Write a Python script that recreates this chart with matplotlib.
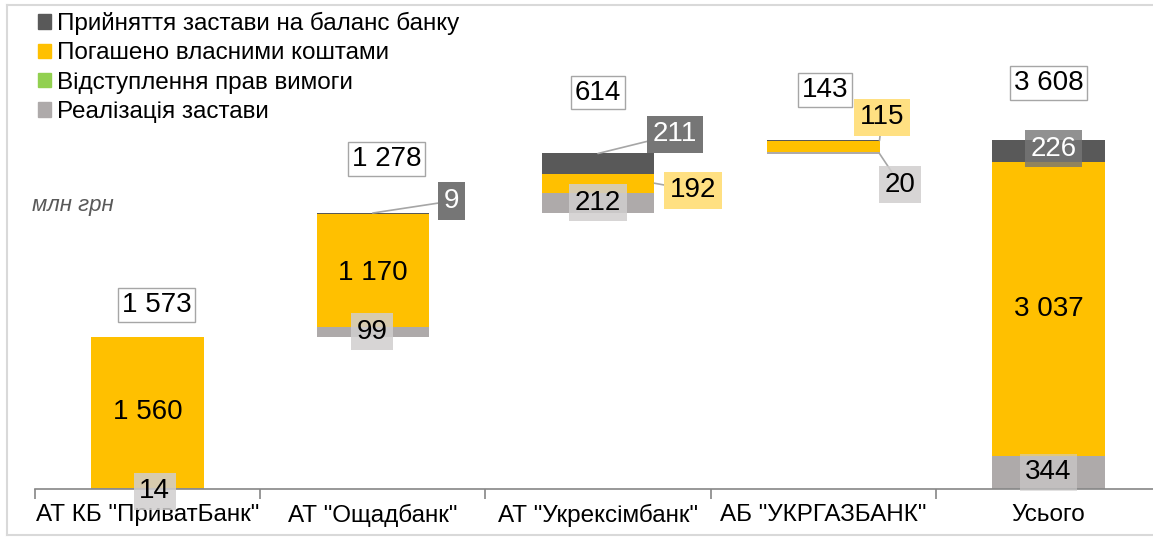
"""
Waterfall chart: sources of loan repayment by bank (mln UAH).

Output: out.png
"""
import matplotlib
matplotlib.use('Agg')  # Non-interactive backend
import matplotlib.pyplot as plt
from matplotlib.patches import Patch
from matplotlib.lines import Line2D

plt.rcParams['font.family'] = ['Liberation Sans', 'DejaVu Sans']

# Data
banks = ['АТ КБ "ПриватБанк"', 'АТ "Ощадбанк"', 'АТ "Укрексімбанк"',
         'АБ "УКРГАЗБАНК"', 'Усього']
totals = [1573, 1278, 614, 143, 3608]
realization = [14, 99, 212, 20, 344]   # Реалізація застави
assignment = [0, 0, 0, 0, 0]           # Відступлення прав вимоги
own_funds = [1560, 1170, 192, 115, 3037]  # Погашено власними коштами
collateral = [0, 9, 211, 8, 226]       # Прийняття застави на баланс банку

C_DARK = '#595959'
C_YELLOW = '#FFC000'
C_GREEN = '#92D050'
C_GRAY = '#AEAAAA'

W, H, DPI = 1153, 542, 100
fig = plt.figure(figsize=(W / DPI, H / DPI), dpi=DPI)

# axes: x axis line at y=489 px, from x=35 px; 0.0968 px per unit
ax_left, ax_right = 35, 1161
ax_bottom, ax_top = 489, 10
ax = fig.add_axes([ax_left / W, (H - ax_bottom) / H,
                   (ax_right - ax_left) / W, (ax_bottom - ax_top) / H])
ax.set_xlim(-0.5, 4.5)
ax.set_ylim(0, (ax_bottom - ax_top) / 0.0968)

# waterfall bases: running sum of totals, last bar from zero
bases = []
run = 0
for i, t in enumerate(totals):
    if i == len(totals) - 1:
        bases.append(0)
    else:
        bases.append(run)
        run += t

x = list(range(len(banks)))
bw = 0.5
b0 = bases
b1 = [b + r for b, r in zip(b0, realization)]
b2 = [b + a for b, a in zip(b1, assignment)]
b3 = [b + o for b, o in zip(b2, own_funds)]

ax.bar(x, realization, bw, bottom=b0, color=C_GRAY, zorder=2)
ax.bar(x, assignment, bw, bottom=b1, color=C_GREEN, zorder=2)
ax.bar(x, own_funds, bw, bottom=b2, color=C_YELLOW, zorder=2)
ax.bar(x, collateral, bw, bottom=b3, color=C_DARK, zorder=2)

# axis styling
for s in ['top', 'right', 'left']:
    ax.spines[s].set_visible(False)
ax.spines['bottom'].set_color('#868686')
ax.spines['bottom'].set_linewidth(1.2)
ax.set_yticks([])
ax.set_xticks([i - 0.5 for i in range(len(banks) + 1)])
ax.set_xticklabels([])
ax.set_xticks(x, minor=True)
ax.set_xticklabels(banks, minor=True, fontsize=17.5)
ax.tick_params(axis='x', which='major', length=7, color='#868686', width=1.2)
ax.tick_params(axis='x', which='minor', length=0, pad=11)


def fmt(v):
    return f'{v:,}'.replace(',', ' ')


def label(i, y, v, dx=0, dy=0, face=None, alpha=1.0, tc='black',
          edge='none', pad=0.2, line_from=None):
    """Put a value label near data point (i, y), shifted by pixels."""
    bbox = None
    if face is not None:
        bbox = dict(boxstyle=f'square,pad={pad}', fc=face, ec=edge,
                    alpha=alpha, lw=1)
    t = ax.annotate(fmt(v), xy=(i, y), xytext=(dx, dy),
                    textcoords='offset pixels', ha='center', va='center',
                    fontsize=20, color=tc, bbox=bbox, zorder=5)
    if line_from is not None:
        # leader line from the bar to the box
        ax.annotate('', xy=line_from, xytext=(0.5, 0.5), textcoords=t,
                    arrowprops=dict(arrowstyle='-', color='#A6A6A6', lw=1.2,
                                    shrinkA=0, shrinkB=0,
                                    patchA=t.get_bbox_patch()),
                    zorder=4)


def mid(lo, h):
    return lo + h / 2


# totals in white boxes
tot_dx = [9, 14, 0, 2, 0]
tot_dy = [32, 54, 61, 50, 57]
for i in x:
    top = bases[i] + totals[i]
    label(i, top, totals[i], dx=tot_dx[i], dy=tot_dy[i], face='white',
          edge='#A6A6A6', pad=0.14)

GRAY_BOX = '#D0CECE'
YEL_BOX = '#FFE082'
DARK_BOX = '#767676'

# ПриватБанк
label(0, mid(b2[0], own_funds[0]), own_funds[0])
label(0, mid(b0[0], realization[0]), realization[0], dx=7, dy=-3,
      face=GRAY_BOX, alpha=0.85)
# Ощадбанк
label(1, mid(b2[1], own_funds[1]), own_funds[1], dy=-2)
label(1, mid(b0[1], realization[1]), realization[1], dx=-1,
      face=GRAY_BOX, alpha=0.85)
label(1, b3[1] + collateral[1], collateral[1], dx=79, dy=12, face=DARK_BOX,
      tc='white', line_from=(1, b3[1] + collateral[1]))
# Укрексімбанк
label(2, mid(b0[2], realization[2]), realization[2], face=GRAY_BOX,
      alpha=0.85)
label(2, mid(b2[2], own_funds[2]), own_funds[2], dx=95, dy=-7,
      face=YEL_BOX, line_from=(2 + bw / 2, mid(b2[2], own_funds[2])))
label(2, b3[2] + collateral[2], collateral[2], dx=77, dy=19, face=DARK_BOX,
      tc='white', line_from=(2, b3[2] + collateral[2]))
# Укргазбанк
label(3, mid(b2[3], own_funds[3]), own_funds[3], dx=59, dy=29,
      face=YEL_BOX, line_from=(3 + bw / 2, b3[3]))
label(3, mid(b0[3], realization[3]), realization[3], dx=77, dy=-32,
      face=GRAY_BOX, alpha=0.85, line_from=(3 + bw / 2, b0[3]))
# Усього
label(4, mid(b2[4], own_funds[4]), own_funds[4])
label(4, mid(b0[4], realization[4]), realization[4], face=GRAY_BOX,
      alpha=0.6)
label(4, mid(b3[4], collateral[4]), collateral[4], dx=5, dy=2,
      face=DARK_BOX, alpha=0.8, tc='white')

# units note
fig.text(32 / W, 1 - 205 / H, 'млн грн', fontsize=16, style='italic',
         color='#595959', ha='left', va='center')

# legend
handles = [Patch(color=C_DARK), Patch(color=C_YELLOW), Patch(color=C_GREEN),
           Patch(color=C_GRAY)]
names = ['Прийняття застави на баланс банку', 'Погашено власними коштами',
         'Відступлення прав вимоги', 'Реалізація застави']
fig.legend(handles, names, loc='upper left',
           bbox_to_anchor=(21 / W, 1 + 5 / H), frameon=False, fontsize=17.5,
           handlelength=0.55, handleheight=0.55, handletextpad=0.25,
           labelspacing=0.3, borderpad=0.2)

# outer frame: top, left, bottom edges (right side runs off the picture)
fx0, fy_top, fy_bot = 7 / W, 1 - 5 / H, 1 - 535 / H
for xs, ys in [([fx0, 1], [fy_top, fy_top]), ([fx0, fx0], [fy_bot, fy_top]),
               ([fx0, 1], [fy_bot, fy_bot])]:
    fig.add_artist(Line2D(xs, ys, transform=fig.transFigure,
                          color='#D9D9D9', lw=1.5, zorder=0))

plt.savefig('out.png', dpi=DPI)
